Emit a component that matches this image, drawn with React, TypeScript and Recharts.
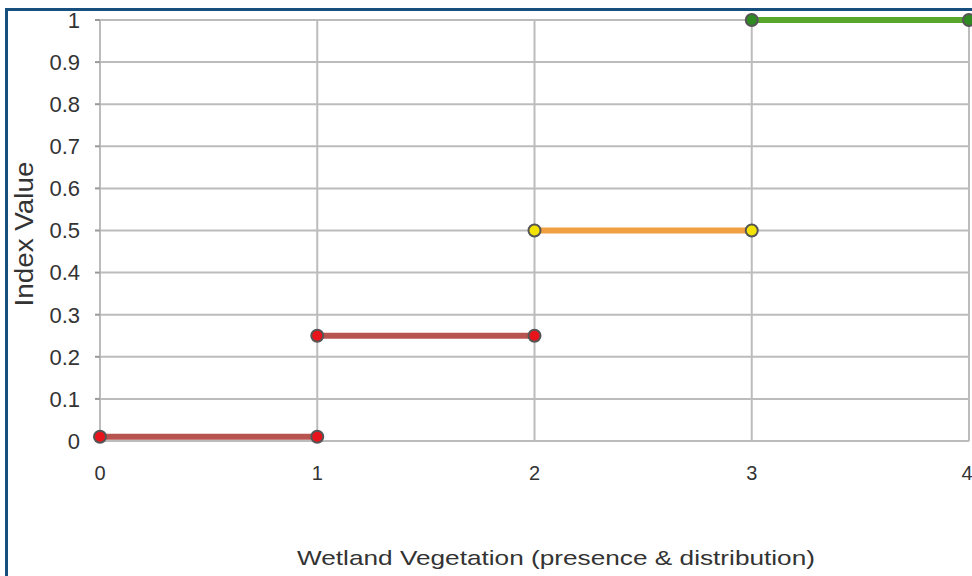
import React from 'react';
import { LineChart, Line, XAxis, YAxis, CartesianGrid, Label } from 'recharts';

// x positions of the category steps and the index value reached on each step
const xTicks = [0, 1, 2, 3, 4];
const yTicks = [0, 0.1, 0.2, 0.3, 0.4, 0.5, 0.6, 0.7, 0.8, 0.9, 1];

const absentPoints = [
  { x: 0, y: 0.01 },
  { x: 1, y: 0.01 },
];
const sparsePoints = [
  { x: 1, y: 0.25 },
  { x: 2, y: 0.25 },
];
const patchyPoints = [
  { x: 2, y: 0.5 },
  { x: 3, y: 0.5 },
];
const fullPoints = [
  { x: 3, y: 1 },
  { x: 4, y: 1 },
];

const FONT = '"Liberation Sans", Arial, Helvetica, sans-serif';
const GRID = '#bcbcbc';

const segments = [
  { key: 'absent', data: absentPoints, stroke: '#b85450', dot: '#e8141c' },
  { key: 'sparse', data: sparsePoints, stroke: '#b85450', dot: '#e8141c' },
  { key: 'patchy', data: patchyPoints, stroke: '#f0a040', dot: '#f2e400' },
  { key: 'full', data: fullPoints, stroke: '#58a62c', dot: '#2f8a22' },
];

export default function App() {
  return (
    <div style={{ position: 'absolute', left: 0, top: 0, width: 972, height: 576, background: '#fff', overflow: 'hidden' }}>
      <div
        style={{
          position: 'absolute',
          left: 5,
          top: 8,
          width: 980,
          height: 580,
          borderLeft: '3px solid #17507f',
          borderTop: '3px solid #17507f',
        }}
      />
      <div style={{ position: 'absolute', left: 0, top: 0 }}>
        <LineChart width={972} height={576} margin={{ top: 20, right: 3, left: 0, bottom: 0 }}>
          <CartesianGrid stroke={GRID} strokeWidth={2} />
          <XAxis
            type="number"
            dataKey="x"
            domain={[0, 4]}
            ticks={xTicks}
            height={135}
            tickSize={0}
            tickMargin={25}
            axisLine={{ stroke: GRID, strokeWidth: 2 }}
            tick={{ fill: '#333', fontSize: 20, fontFamily: FONT }}
          >
            <Label
              content={() => (
                <text
                  x={556}
                  y={565}
                  textAnchor="middle"
                  fill="#333"
                  fontSize={21}
                  fontFamily={FONT}
                  textLength={518}
                  lengthAdjust="spacingAndGlyphs"
                >
                  Wetland Vegetation (presence &amp; distribution)
                </text>
              )}
            />
          </XAxis>
          <YAxis
            type="number"
            domain={[0, 1]}
            ticks={yTicks}
            width={100}
            tickSize={5}
            tickMargin={15}
            interval={0}
            axisLine={{ stroke: GRID, strokeWidth: 2 }}
            tickLine={{ stroke: '#999', strokeWidth: 2 }}
            tick={{ fill: '#333', fontSize: 22, fontFamily: FONT }}
          >
            <Label
              content={() => (
                <text
                  x={33}
                  y={234}
                  transform="rotate(-90 33 234)"
                  textAnchor="middle"
                  fill="#333"
                  fontSize={26}
                  fontFamily={FONT}
                  textLength={145}
                  lengthAdjust="spacingAndGlyphs"
                >
                  Index Value
                </text>
              )}
            />
          </YAxis>
          {segments.map((s) => (
            <Line
              key={s.key}
              data={s.data}
              dataKey="y"
              type="linear"
              stroke={s.stroke}
              strokeWidth={6}
              dot={{ r: 6, fill: s.dot, stroke: '#555', strokeWidth: 2 }}
              isAnimationActive={false}
            />
          ))}
        </LineChart>
      </div>
    </div>
  );
}
